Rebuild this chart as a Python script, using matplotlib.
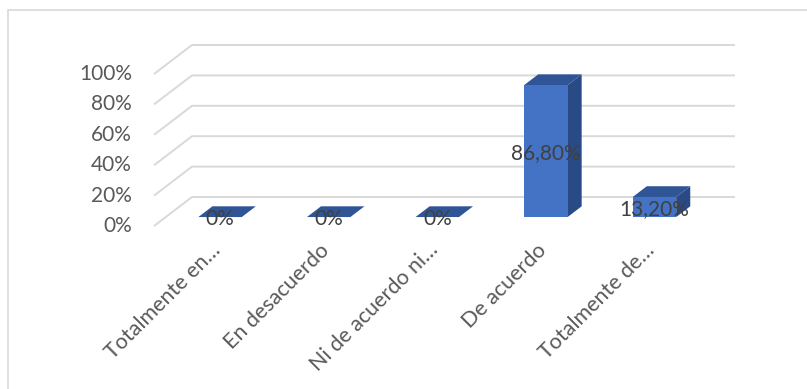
import matplotlib.pyplot as plt
from matplotlib.patches import Polygon, Rectangle

categories = ["Totalmente en…", "En desacuerdo", "Ni de acuerdo ni…",
              "De acuerdo", "Totalmente de…"]
values = [0.0, 0.0, 0.0, 86.8, 13.2]
value_labels = ["0%", "0%", "0%", "86,80%", "13,20%"]
yticks = [0, 20, 40, 60, 80, 100]

FRONT = "#4472C4"
TOP = "#2F5597"
SIDE = "#2A4A85"
GRID = "#D9D9D9"
TXT = "#595959"
LBL = "#404040"

# floor depth (category units, percent units) and bar placement inside it
DX, DY = 0.35, 19.1
F0, F1 = 0.31, 0.68
BW = 0.40

plt.rcParams["font.family"] = ["Lato", "DejaVu Sans"]

fig = plt.figure(figsize=(8.07, 3.89), dpi=100)
ax = fig.add_axes([0, 0, 1, 1])
ax.set_xlim(-1.918, 5.513)
ax.set_ylim(-107.2, 148.7)
ax.axis("off")

# chart border
fig.patches.append(Rectangle((8 / 807, -0.1), 1.2, 1 - 10 / 389 + 0.1,
                             transform=fig.transFigure, fill=False,
                             edgecolor=GRID, lw=1.2))

n = len(categories)
x0, x1 = -0.5, n - 0.5
for v in yticks:
    ax.plot([x0, x0 + DX, x1 + DX], [v, v + DY, v + DY],
            color=GRID, lw=1.4, solid_capstyle="butt", zorder=1)
    ax.text(x0 - 0.203, v, f"{v}%", ha="right", va="center",
            fontsize=15, color=TXT)

for i, (v, lab) in enumerate(zip(values, value_labels)):
    l = i - BW / 2 + DX * F0
    r = i + BW / 2 + DX * F0
    b = DY * F0
    ddx, ddy = DX * (F1 - F0), DY * (F1 - F0)
    side = [(r, b), (r + ddx, b + ddy), (r + ddx, b + ddy + v), (r, b + v)]
    top = [(l, b + v), (r, b + v), (r + ddx, b + ddy + v), (l + ddx, b + ddy + v)]
    ax.add_patch(Polygon(side, closed=True, facecolor=SIDE, edgecolor="none", zorder=3))
    ax.add_patch(Polygon(top, closed=True, facecolor=TOP, edgecolor="none", zorder=3))
    ax.add_patch(Rectangle((l, b), r - l, v, facecolor=FRONT, edgecolor="none", zorder=4))
    ax.text((l + r) / 2, b + v / 2 - 1.5, lab, ha="center", va="center",
            fontsize=15, color=LBL, zorder=5)

for i, cat in enumerate(categories):
    ax.text(i + 0.083, -13.8, cat, rotation=45, rotation_mode="anchor",
            ha="right", va="center", fontsize=15.5, color=TXT)

fig.savefig("out.png", dpi=100, facecolor="white")
